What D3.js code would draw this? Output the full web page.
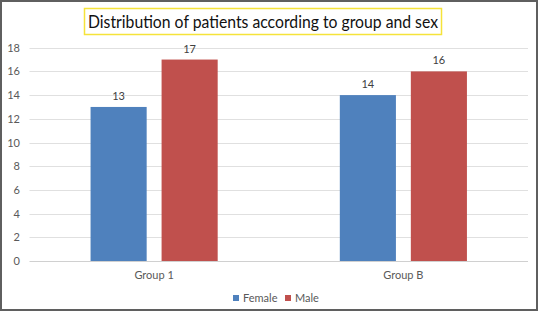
<!DOCTYPE html>
<html>
<head>
<meta charset="utf-8">
<script src="https://cdn.jsdelivr.net/npm/d3@7"></script>
<style>
  body { margin: 0; background: #fff; }
  text { font-family: Lato, "Open Sans", sans-serif; }
</style>
</head>
<body>
<svg id="chart" width="538" height="312"></svg>
<script>
// data
var groups = ["Group 1", "Group B"];
var sexes = ["Female", "Male"];
var female = [13, 14];
var male = [17, 16];
var yTicks = [0, 2, 4, 6, 8, 10, 12, 14, 16, 18];
var colors = ["#4f81bd", "#c0504d"];
var title = "Distribution of patients according to group and sex";

var svg = d3.select("#chart");
var plot = { left: 29.5, right: 528, top: 47.7, bottom: 261 };

// outer frame
svg.append("rect")
    .attr("x", 1).attr("y", 1)
    .attr("width", 536).attr("height", 309)
    .style("fill", "#fff")
    .style("stroke", "#5f5f5f")
    .style("stroke-width", 2);

// title with yellow box
svg.append("rect")
    .attr("x", 84.5).attr("y", 8.5)
    .attr("width", 357).attr("height", 26)
    .style("fill", "#fff")
    .style("stroke", "#f5e33a")
    .style("stroke-width", 1.5);

svg.append("text")
    .attr("x", 263).attr("y", 27.5)
    .attr("text-anchor", "middle")
    .attr("textLength", 350)
    .attr("lengthAdjust", "spacingAndGlyphs")
    .style("font-size", "17px")
    .style("fill", "#111")
    .text(title);

var y = d3.scaleLinear()
    .domain([0, 18])
    .range([plot.bottom, plot.top]);

var x0 = d3.scaleBand()
    .domain(groups)
    .range([plot.left, plot.right])
    .paddingInner(0.49)
    .paddingOuter(0.245);

var x1 = d3.scaleBand()
    .domain(sexes)
    .range([0, x0.bandwidth()])
    .paddingInner(0.21);

// gridlines
svg.append("g").selectAll("line")
    .data(yTicks)
    .enter().append("line")
        .attr("x1", plot.left).attr("x2", plot.right)
        .attr("y1", d => Math.round(y(d)) + 0.5)
        .attr("y2", d => Math.round(y(d)) + 0.5)
        .style("stroke", d => d == 0 ? "#d0d0d0" : "#e0e0e0")
        .style("stroke-width", 1);

// y labels
svg.append("g").selectAll("text")
    .data(yTicks)
    .enter().append("text")
        .attr("x", 20)
        .attr("y", d => y(d) + 4)
        .attr("text-anchor", "end")
        .style("font-size", "11px")
        .style("fill", "#595959")
        .text(d => d);

var rows = groups.map((g, i) => ({ group: g, values: [female[i], male[i]] }));

var grp = svg.append("g").selectAll("g")
    .data(rows)
    .enter().append("g")
        .attr("transform", d => "translate(" + x0(d.group) + ",0)");

var cells = grp.selectAll("g")
    .data(d => d.values.map((v, j) => ({ key: sexes[j], value: v, j: j })))
    .enter().append("g");

cells.append("rect")
    .attr("x", d => x1(d.key))
    .attr("y", d => y(d.value))
    .attr("width", x1.bandwidth())
    .attr("height", d => plot.bottom - y(d.value))
    .style("fill", d => colors[d.j]);

cells.append("text")
    .attr("x", d => x1(d.key) + x1.bandwidth() / 2)
    .attr("y", d => y(d.value) - 7)
    .attr("text-anchor", "middle")
    .style("font-size", "11px")
    .style("fill", "#404040")
    .text(d => d.value);

// category labels
svg.append("g").selectAll("text")
    .data(groups)
    .enter().append("text")
        .attr("x", d => x0(d) + x0.bandwidth() / 2)
        .attr("y", 279)
        .attr("text-anchor", "middle")
        .style("font-size", "11px")
        .style("fill", "#595959")
        .text(d => d);

// legend
var legendX = [233, 285];
var leg = svg.append("g").selectAll("g")
    .data(sexes)
    .enter().append("g")
        .attr("transform", (d, i) => "translate(" + legendX[i] + ",295)");

leg.append("rect")
    .attr("width", 6).attr("height", 6)
    .style("fill", (d, i) => colors[i]);

leg.append("text")
    .attr("x", 10).attr("y", 7)
    .style("font-size", "11px")
    .style("fill", "#595959")
    .text(d => d);
</script>
</body>
</html>
